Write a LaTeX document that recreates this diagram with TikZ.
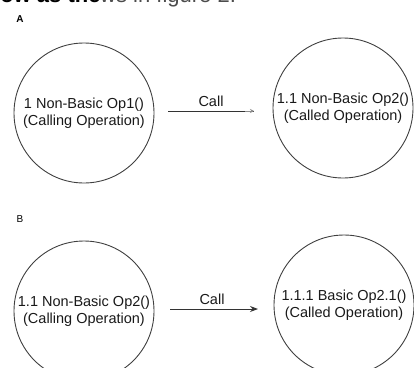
\documentclass[tikz,border=0pt]{standalone}
\usepackage{fontspec}
\setmainfont{Liberation Sans}
\usetikzlibrary{arrows.meta}
\begin{document}
\begin{tikzpicture}[x=1pt,y=-1pt,
  opcircle/.style={draw=black!75, line width=0.9pt, circle, minimum size=140pt, inner sep=0pt,
    align=center, font=\fontsize{14.5}{17}\selectfont, text=black!90},
  calllink/.style={draw=black!80, line width=0.9pt},
  linklabel/.style={font=\fontsize{14.5}{17}\selectfont, text=black!90},
  partlabel/.style={font=\fontsize{10}{12}\selectfont, text=black}]
\useasboundingbox (0,0) rectangle (414,367);
\begin{scope}
\clip (0,0) rectangle (414,367);
% running text of the page above, cut by the frame
\node[anchor=base west, inner sep=0pt, font=\fontsize{22}{24}\bfseries\selectfont] (runA) at (-6,2) {low as the};
\node[anchor=base west, inner sep=0pt, font=\fontsize{22}{24}\selectfont, text=black!70] (runB) at (100,2) {ws in figure 2.};

% part A
\node[partlabel, font=\fontsize{10}{12}\bfseries\selectfont] (labA) at (20,19) {A};
\node[opcircle] (opA1) at (84,113) {1 Non-Basic Op1()\\(Calling Operation)};
\node[opcircle] (opA2) at (343,108) {1.1 Non-Basic Op2()\\(Called Operation)};
\coordinate (srcA) at (168,111);
\coordinate (dstA) at (254,111);
\draw[calllink] (srcA) -- (dstA);
\draw[draw=black!45, line width=0.8pt, -{Stealth[length=4pt,width=4pt,fill=black!45]}] (245,111) -- (dstA);
\node[linklabel] (callA) at (211,101) {Call};

% part B
\node[partlabel] (labB) at (20,219) {B};
\node[opcircle] (opB1) at (84,311) {1.1 Non-Basic Op2()\\(Calling Operation)};
\node[opcircle] (opB2) at (344,305) {1.1.1 Basic Op2.1()\\(Called Operation)};
\coordinate (srcB) at (170,309);
\coordinate (dstB) at (258,309);
\draw[calllink, -{Stealth[length=8pt,width=6pt]}] (srcB) -- (dstB);
\node[linklabel] (callB) at (212,299) {Call};
\end{scope}
\end{tikzpicture}
\end{document}
